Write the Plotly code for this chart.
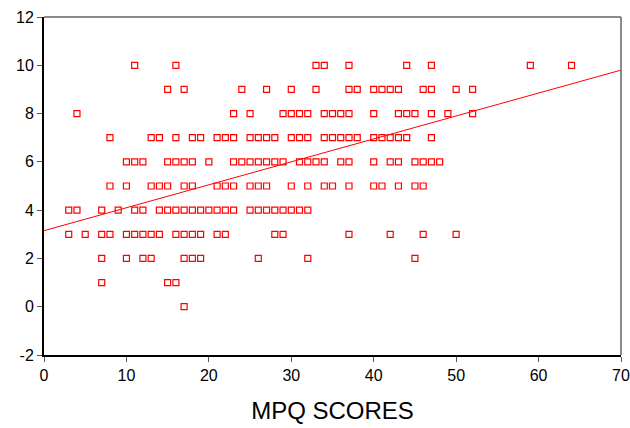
import plotly.graph_objects as go

# MPQ scores grouped by y value
y_levels = [10, 9, 8, 7, 6, 5, 4, 3, 2, 1, 0]
x_by_level = [
    [11, 16, 33, 34, 37, 44, 47, 59, 64],
    [15, 17, 24, 27, 30, 33, 37, 38, 40, 41, 42, 43, 46, 47, 50, 52],
    [4, 23, 25, 29, 30, 31, 32, 34, 35, 36, 37, 40, 43, 44, 45, 47, 49, 52],
    [8, 13, 14, 16, 18, 19, 21, 22, 23, 25, 26, 27, 28, 30, 31, 32, 34, 35, 36, 37,
     38, 40, 41, 42, 43, 44, 47],
    [10, 11, 12, 15, 16, 17, 18, 20, 23, 24, 25, 26, 27, 28, 29, 31, 32, 33, 34, 36,
     37, 40, 42, 43, 45, 46, 47, 48],
    [8, 10, 13, 14, 15, 17, 18, 21, 22, 23, 25, 26, 27, 30, 32, 34, 35, 37, 40, 41,
     43, 45, 46],
    [3, 4, 7, 9, 11, 12, 14, 15, 16, 17, 18, 19, 20, 21, 22, 23, 25, 26, 27, 28, 29,
     30, 31, 32],
    [3, 5, 7, 8, 10, 11, 12, 13, 14, 16, 17, 18, 19, 21, 22, 28, 29, 37, 42, 46, 50],
    [7, 10, 12, 13, 17, 18, 19, 26, 32, 45],
    [7, 15, 16],
    [17],
]

# Fitted line
fit_intercept = 3.15
fit_slope = 0.095
fit_x = [0, 70]

x_ticks = [0, 10, 20, 30, 40, 50, 60, 70]
x_tick_labels = ["0", "10", "20", "30", "40", "50", "60", "70"]
y_ticks = [-2, 0, 2, 4, 6, 8, 10, 12]
y_tick_labels = ["-2", "0", "2", "4", "6", "8", "10", "12"]

xs, ys = [], []
for lvl, xl in zip(y_levels, x_by_level):
    for v in xl:
        xs.append(v)
        ys.append(lvl)

fit_y = [fit_intercept + fit_slope * v for v in fit_x]

fig = go.Figure()
fig.add_trace(go.Scatter(
    x=fit_x, y=fit_y, mode="lines",
    line=dict(color="#ff0000", width=1), hoverinfo="skip", showlegend=False,
))
fig.add_trace(go.Scatter(
    x=xs, y=ys, mode="markers",
    marker=dict(symbol="square-open", size=6, color="#ff0000", line=dict(width=1.2, color="#ff0000")),
    showlegend=False,
))

fig.update_layout(
    width=630, height=428,
    margin=dict(l=44, r=9, t=17, b=73),
    paper_bgcolor="white", plot_bgcolor="white",
    font=dict(family="Liberation Sans, Arial, sans-serif", color="black", size=16),
    xaxis=dict(
        range=[0, 70], tickvals=x_ticks, ticktext=x_tick_labels,
        ticks="outside", ticklen=5, tickwidth=1,
        tickcolor="#555555", showgrid=False, zeroline=False,
        showline=True, linecolor="black", linewidth=2,
        title=dict(text="MPQ SCORES", font=dict(size=24), standoff=19),
        tickfont=dict(size=16), automargin=False,
    ),
    yaxis=dict(
        range=[-2, 12], tickvals=y_ticks, ticktext=y_tick_labels,
        ticks="outside", ticklen=5, tickwidth=1,
        tickcolor="#555555", showgrid=False, zeroline=False,
        showline=True, linecolor="black", linewidth=2,
        tickfont=dict(size=16), automargin=False,
    ),
    shapes=[
        dict(type="line", xref="paper", yref="paper", x0=0, x1=1, y0=1, y1=1,
             line=dict(color="#666666", width=1.5)),
        dict(type="line", xref="paper", yref="paper", x0=1, x1=1, y0=0, y1=1,
             line=dict(color="#666666", width=1.5)),
    ],
)

fig.write_html(
    "out.html",
    config={"displayModeBar": False},
    post_script="document.body.style.margin='0';document.body.style.overflow='hidden';",
)
